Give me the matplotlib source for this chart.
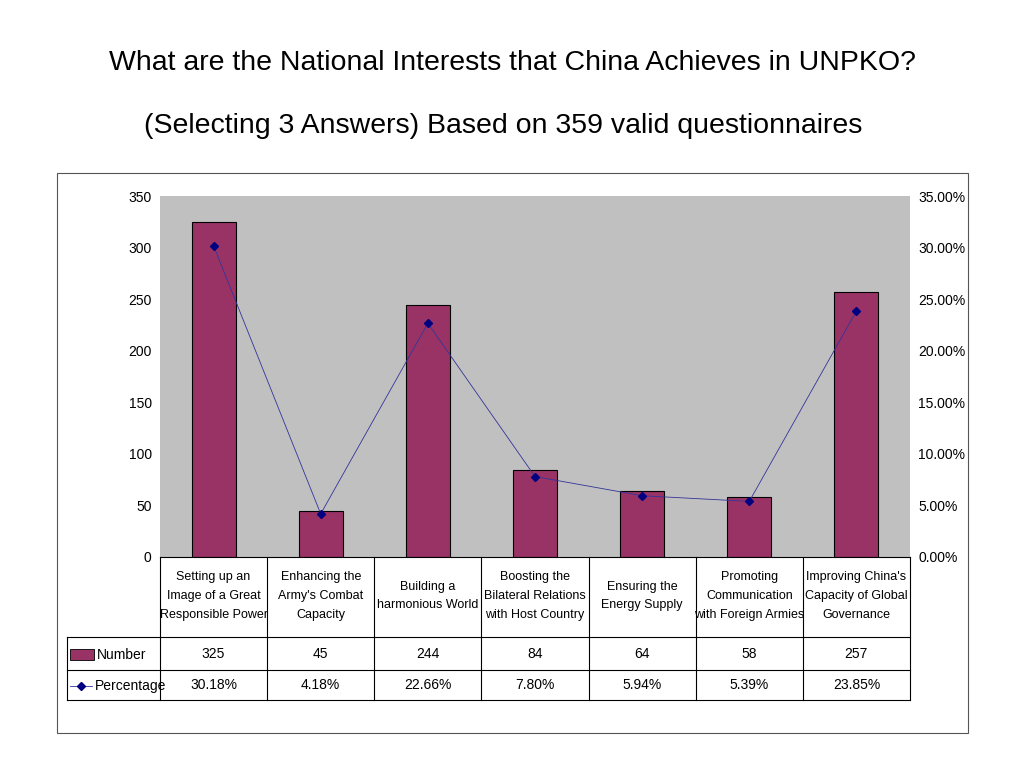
import matplotlib
matplotlib.use("Agg")
import matplotlib.pyplot as plt
from matplotlib.lines import Line2D
from matplotlib.patches import Rectangle

plt.rcParams['font.family'] = ['Liberation Sans Narrow', 'Liberation Sans', 'DejaVu Sans']

categories = ["Setting up an\nImage of a Great\nResponsible Power",
              "Enhancing the\nArmy's Combat\nCapacity",
              "Building a\nharmonious World",
              "Boosting the\nBilateral Relations\nwith Host Country",
              "Ensuring the\nEnergy Supply",
              "Promoting\nCommunication\nwith Foreign Armies",
              "Improving China's\nCapacity of Global\nGovernance"]
numbers = [325, 45, 244, 84, 64, 58, 257]
percent = [30.18, 4.18, 22.66, 7.80, 5.94, 5.39, 23.85]

W, H = 1024, 768
fig = plt.figure(figsize=(10.24, 7.68), dpi=100)

def fx(x): return x / W
def fy(y): return 1 - y / H

def hline(x0, x1, y):
    fig.add_artist(Line2D([fx(x0), fx(x1)], [fy(y), fy(y)], color='black', lw=0.8))
def vline(x, y0, y1):
    fig.add_artist(Line2D([fx(x), fx(x)], [fy(y0), fy(y1)], color='black', lw=0.8))

fig.text(0.5, fy(63), "What are the National Interests that China Achieves in UNPKO?",
         ha='center', va='center', fontsize=20.5, family=['Liberation Sans', 'DejaVu Sans'])
fig.text(fx(503), fy(126), "(Selecting 3 Answers) Based on 359 valid questionnaires",
         ha='center', va='center', fontsize=20.5, family=['Liberation Sans', 'DejaVu Sans'])

# outer frame
fig.add_artist(Rectangle((fx(57), fy(733)), fx(968) - fx(57), fy(173) - fy(733),
                         fill=False, edgecolor='#555555', lw=0.8))

L, R, T, B = 160, 910, 196, 557
ax = fig.add_axes([fx(L), fy(B), fx(R) - fx(L), fy(T) - fy(B)])
ax.set_facecolor('#c0c0c0')
x = range(len(categories))
ax.bar(x, numbers, width=0.41, color='#993366', edgecolor='black', linewidth=0.8, zorder=2)
ax.set_xlim(-0.5, len(categories) - 0.5)
ax.set_ylim(0, 350)
ax.set_yticks(range(0, 351, 50))
ax.set_xticks([])
ax.tick_params(axis='y', length=0, labelsize=10, pad=6)
for s in ax.spines.values():
    s.set_visible(False)

ax2 = ax.twinx()
ax2.plot(x, percent, color='#333399', lw=0.6, marker='D', markersize=4,
         markerfacecolor='#000080', markeredgecolor='#000080', zorder=3)
ax2.set_ylim(0, 35)
ax2.set_yticks(range(0, 36, 5))
ax2.set_yticklabels([f"{v:.2f}%" for v in range(0, 36, 5)])
ax2.tick_params(axis='y', length=0, labelsize=10, pad=6)
for s in ax2.spines.values():
    s.set_visible(False)

# data table
cw = (R - L) / len(categories)
hline(L, R, B)
hline(67, R, 637)
hline(67, R, 670)
hline(67, R, 700)
vline(67, 637, 700)
for i in range(len(categories) + 1):
    vline(L + i * cw, B, 700)
for i, c in enumerate(categories):
    cx = L + (i + 0.5) * cw
    fig.text(fx(cx), fy(596), c, ha='center', va='center', fontsize=9, linespacing=1.75)
    fig.text(fx(cx), fy(654), str(numbers[i]), ha='center', va='center', fontsize=10)
    fig.text(fx(cx), fy(685), f"{percent[i]:.2f}%", ha='center', va='center', fontsize=10)

fig.add_artist(Rectangle((fx(70), fy(660)), fx(24), fy(649) - fy(660),
                         facecolor='#993366', edgecolor='black', lw=0.6))
fig.text(fx(97), fy(655), "Number", ha='left', va='center', fontsize=10)
fig.add_artist(Line2D([fx(70), fx(92)], [fy(686), fy(686)], color='#333399', lw=0.6))
fig.add_artist(Line2D([fx(81)], [fy(686)], marker='D', markersize=4, color='#000080'))
fig.text(fx(95), fy(686), "Percentage", ha='left', va='center', fontsize=10)

fig.savefig("out.png", dpi=100)
